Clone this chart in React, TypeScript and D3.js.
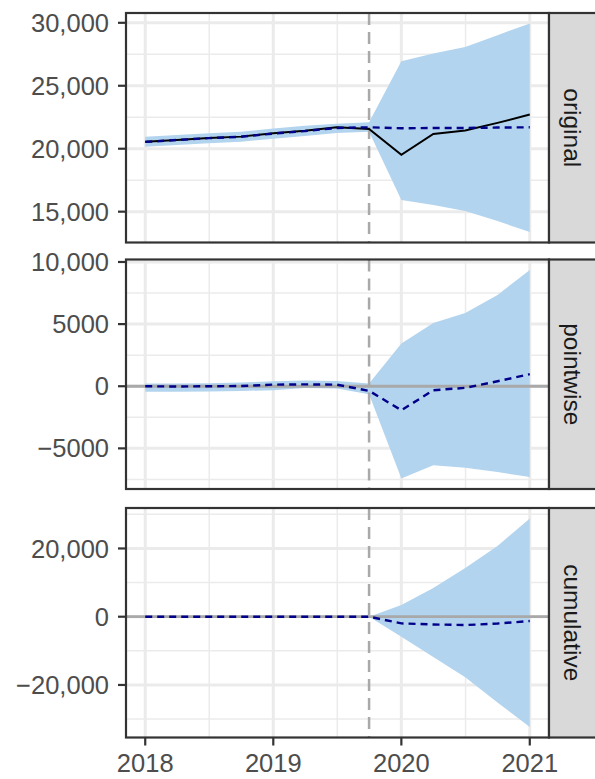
import * as d3 from 'd3'

// quarterly series, pre-period up to the intervention (2019-10)
const QUARTERS = [
  '2018-01-01', '2018-04-01', '2018-07-01', '2018-10-01',
  '2019-01-01', '2019-04-01', '2019-07-01', '2019-10-01',
  '2020-01-01', '2020-04-01', '2020-07-01', '2020-10-01', '2021-01-01',
]
const INTERVENTION = '2019-10-01'
const YEAR_TICKS = ['2018-01-01', '2019-01-01', '2020-01-01', '2021-01-01']

const OBSERVED = [20560, 20700, 20850, 20960, 21220, 21420, 21700, 21570, 19520, 21170, 21440, 22050, 22710]
const PREDICTED = [20540, 20690, 20840, 20950, 21200, 21400, 21650, 21700, 21620, 21650, 21650, 21680, 21700]
const PRED_UPPER = [20960, 21090, 21230, 21350, 21600, 21830, 21990, 22100, 26940, 27560, 28080, 29020, 29950]
const PRED_LOWER = [20150, 20290, 20440, 20560, 20800, 21000, 21250, 21350, 15930, 15530, 15050, 14250, 13380]

const POINTWISE = [0, -20, 0, 20, 130, 150, 130, -370, -1930, -320, -130, 400, 970]
const POINT_UPPER = [220, 230, 250, 300, 400, 470, 430, 220, 3440, 5080, 5890, 7340, 9360]
const POINT_LOWER = [-450, -440, -420, -380, -320, -150, -190, -640, -7430, -6350, -6560, -6910, -7300]

const CUMULATIVE = [0, 0, 0, 0, 0, 0, 0, 0, -1950, -2270, -2450, -2000, -1270]
const CUM_UPPER = [0, 0, 0, 0, 0, 0, 0, 0, 3460, 8400, 14300, 20700, 28800]
const CUM_LOWER = [0, 0, 0, 0, 0, 0, 0, 0, -5900, -11830, -17750, -25150, -32340]

const PANELS = [
  { label: 'original', mean: PREDICTED, upper: PRED_UPPER, lower: PRED_LOWER, observed: OBSERVED, breaks: [15000, 20000, 25000, 30000], zero: false },
  { label: 'pointwise', mean: POINTWISE, upper: POINT_UPPER, lower: POINT_LOWER, observed: null, breaks: [-5000, 0, 5000, 10000], zero: true },
  { label: 'cumulative', mean: CUMULATIVE, upper: CUM_UPPER, lower: CUM_LOWER, observed: null, breaks: [-20000, 0, 20000], zero: true },
]

const W = 595
const H = 779
const X0 = 126
const X1 = 549
const STRIP_W = 48
const PANEL_TOPS = [13, 259.5, 508]
const PANEL_H = 229.5
const FONT = '"Liberation Sans", Arial, sans-serif'
const FS = 25.5
const BAND = '#B3D4EE'
const GRID = '#EBEBEB'
const DARK = '#333333'

const parse = d3.timeParse('%Y-%m-%d')
const dates = QUARTERS.map((q) => parse(q) as Date)

const fmt = (v: number) => (Math.abs(v) >= 10000 ? d3.format(',')(v) : d3.format('d')(v))

function expand(lo: number, hi: number) {
  const r = hi - lo
  return [lo - r * 0.05, hi + r * 0.05]
}

export default function App() {
  const [t0, t1] = d3.extent(dates) as [Date, Date]
  const span = +t1 - +t0
  const x = d3.scaleTime()
    .domain([new Date(+t0 - span * 0.05), new Date(+t1 + span * 0.05)])
    .range([X0, X1])

  const yearDates = YEAR_TICKS.map((d) => parse(d) as Date)
  const minorX = d3.pairs(yearDates).map(([a, b]) => new Date((+a + +b) / 2))
  const xI = x(parse(INTERVENTION) as Date)

  return (
    <svg width={W} height={H} style={{ position: 'absolute', left: 0, top: 0, background: '#fff' }} fontFamily={FONT}>
      {PANELS.map((p, pi) => {
        const top = PANEL_TOPS[pi]
        const bottom = top + PANEL_H
        const lo = d3.min([...p.lower, ...p.mean, ...(p.observed ?? [])]) as number
        const hi = d3.max([...p.upper, ...p.mean, ...(p.observed ?? [])]) as number
        const [d0, d1] = expand(lo, hi)
        const y = d3.scaleLinear().domain([d0, d1]).range([bottom, top])

        const step = p.breaks[1] - p.breaks[0]
        const minorY: number[] = []
        for (let v = p.breaks[0] - step / 2; v <= d1; v += step) {
          if (v >= d0) minorY.push(v)
        }

        const area = d3.area<number>()
          .x((_, i) => x(dates[i]))
          .y0((_, i) => y(p.lower[i]))
          .y1((_, i) => y(p.upper[i]))
        const line = d3.line<number>()
          .x((_, i) => x(dates[i]))
          .y((v) => y(v))

        return (
          <g key={p.label}>
            <clipPath id={`clip${pi}`}>
              <rect x={X0} y={top} width={X1 - X0} height={PANEL_H} />
            </clipPath>
            <g clipPath={`url(#clip${pi})`}>
              {minorY.map((v) => (
                <line key={'my' + v} x1={X0} x2={X1} y1={y(v)} y2={y(v)} stroke={GRID} strokeWidth={1.5} />
              ))}
              {minorX.map((d, i) => (
                <line key={'mx' + i} x1={x(d)} x2={x(d)} y1={top} y2={bottom} stroke={GRID} strokeWidth={1.5} />
              ))}
              {p.breaks.map((v) => (
                <line key={'gy' + v} x1={X0} x2={X1} y1={y(v)} y2={y(v)} stroke={GRID} strokeWidth={3} />
              ))}
              {yearDates.map((d, i) => (
                <line key={'gx' + i} x1={x(d)} x2={x(d)} y1={top} y2={bottom} stroke={GRID} strokeWidth={3} />
              ))}
              <path d={area(p.mean) ?? ''} fill={BAND} />
              {p.zero && (
                <line x1={X0} x2={X1} y1={y(0)} y2={y(0)} stroke="#A9A9A9" strokeWidth={2.8} />
              )}
              <line x1={xI} x2={xI} y1={top} y2={bottom} stroke="#A9A9A9" strokeWidth={2.5} strokeDasharray="12,7" />
              {p.observed && (
                <path d={line(p.observed) ?? ''} fill="none" stroke="#000" strokeWidth={2} />
              )}
              <path d={line(p.mean) ?? ''} fill="none" stroke="#00008B" strokeWidth={2.4} strokeDasharray="7,5" />
            </g>
            <rect x={X0} y={top} width={X1 - X0} height={PANEL_H} fill="none" stroke={DARK} strokeWidth={2.2} />

            {p.breaks.map((v) => (
              <g key={'t' + v}>
                <line x1={X0 - 8} x2={X0} y1={y(v)} y2={y(v)} stroke={DARK} strokeWidth={2.2} />
                <text x={X0 - 17} y={y(v)} dy="0.355em" textAnchor="end" fontSize={FS} fill="#4D4D4D">
                  {fmt(v)}
                </text>
              </g>
            ))}

            <rect x={X1} y={top} width={STRIP_W} height={PANEL_H} fill="#D9D9D9" stroke={DARK} strokeWidth={2.2} />
            <text
              transform={`translate(${X1 + 14.5},${top + PANEL_H / 2}) rotate(90)`}
              textAnchor="middle"
              fontSize={24.5}
              fill="#1A1A1A"
            >
              {p.label}
            </text>
          </g>
        )
      })}

      {yearDates.map((d, i) => {
        const bottom = PANEL_TOPS[2] + PANEL_H
        return (
          <g key={'xt' + i}>
            <line x1={x(d)} x2={x(d)} y1={bottom} y2={bottom + 8} stroke={DARK} strokeWidth={2.2} />
            <text x={x(d)} y={bottom + 34.5} textAnchor="middle" fontSize={FS} fill="#4D4D4D">
              {d3.timeFormat('%Y')(d)}
            </text>
          </g>
        )
      })}
    </svg>
  )
}
